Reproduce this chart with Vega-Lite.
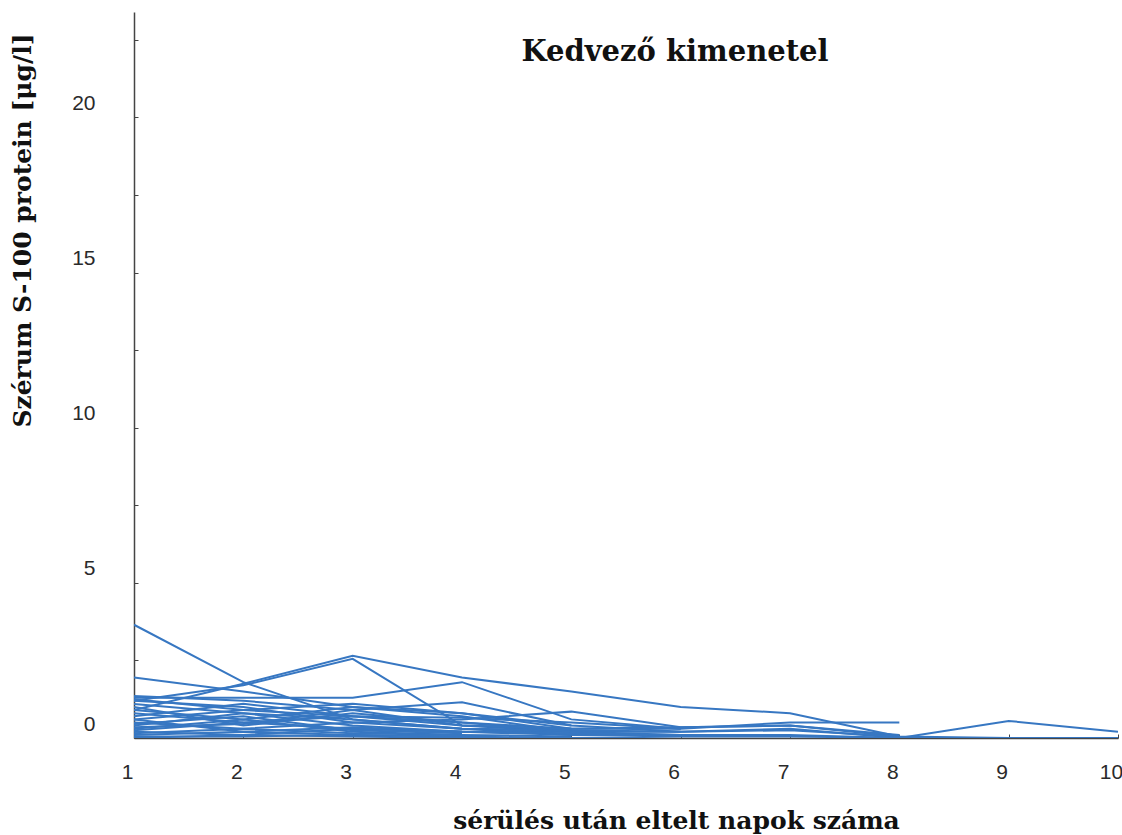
{
  "$schema": "https://vega.github.io/schema/vega-lite/v6.json",
  "width": 984,
  "height": 726,
  "autosize": {"type": "none"},
  "padding": {"left": 134, "top": 12, "right": 4, "bottom": 97},
  "background": "white",
  "config": {"view": {"stroke": null}},
  "title": {
    "text": "Kedvező kimenetel",
    "anchor": "middle",
    "frame": "group",
    "font": "DejaVu Serif",
    "fontSize": 29,
    "fontWeight": "bold",
    "color": "#111111",
    "baseline": "alphabetic",
    "offset": 0,
    "dx": 49,
    "dy": 78
  },
  "data": {
    "values": [
      {"p":"s1","d":1,"v":3.65},{"p":"s1","d":2,"v":1.8},{"p":"s1","d":3,"v":0.6},{"p":"s1","d":4,"v":0.3},{"p":"s1","d":5,"v":0.1},
      {"p":"s2","d":1,"v":0.9},{"p":"s2","d":2,"v":1.75},{"p":"s2","d":3,"v":2.65},{"p":"s2","d":4,"v":1.95},{"p":"s2","d":5,"v":1.5},{"p":"s2","d":6,"v":1.0},{"p":"s2","d":7,"v":0.8},{"p":"s2","d":8,"v":0.05},
      {"p":"s3","d":1,"v":1.2},{"p":"s3","d":2,"v":1.7},{"p":"s3","d":3,"v":2.55},{"p":"s3","d":4,"v":0.4},{"p":"s3","d":5,"v":0.2},
      {"p":"s4","d":1,"v":1.95},{"p":"s4","d":2,"v":1.5},{"p":"s4","d":3,"v":1.0},{"p":"s4","d":4,"v":0.8},{"p":"s4","d":5,"v":0.3},
      {"p":"s5","d":1,"v":1.3},{"p":"s5","d":2,"v":1.3},{"p":"s5","d":3,"v":1.3},{"p":"s5","d":4,"v":1.8},{"p":"s5","d":5,"v":0.6},{"p":"s5","d":6,"v":0.3},
      {"p":"s6","d":1,"v":1.35},{"p":"s6","d":2,"v":1.2},{"p":"s6","d":3,"v":0.9},{"p":"s6","d":4,"v":1.15},{"p":"s6","d":5,"v":0.4},{"p":"s6","d":6,"v":0.2},
      {"p":"s7","d":1,"v":1.2},{"p":"s7","d":2,"v":1.0},{"p":"s7","d":3,"v":0.5},{"p":"s7","d":4,"v":0.6},{"p":"s7","d":5,"v":0.85},{"p":"s7","d":6,"v":0.35},{"p":"s7","d":7,"v":0.4},{"p":"s7","d":8,"v":0.1},
      {"p":"s8","d":1,"v":0.6},{"p":"s8","d":2,"v":0.9},{"p":"s8","d":3,"v":1.1},{"p":"s8","d":4,"v":0.8},{"p":"s8","d":5,"v":0.4},
      {"p":"s9","d":1,"v":1.0},{"p":"s9","d":2,"v":0.4},{"p":"s9","d":3,"v":0.8},{"p":"s9","d":4,"v":0.5},{"p":"s9","d":5,"v":0.3},{"p":"s9","d":6,"v":0.3},{"p":"s9","d":7,"v":0.5},{"p":"s9","d":8,"v":0.5},
      {"p":"s10","d":1,"v":0.8},{"p":"s10","d":2,"v":0.5},{"p":"s10","d":3,"v":0.3},{"p":"s10","d":4,"v":0.2},{"p":"s10","d":5,"v":0.2},{"p":"s10","d":6,"v":0.2},{"p":"s10","d":7,"v":0.3},{"p":"s10","d":8,"v":0.0},{"p":"s10","d":9,"v":0.55},{"p":"s10","d":10,"v":0.2},
      {"p":"s11","d":1,"v":0.4},{"p":"s11","d":2,"v":0.8},{"p":"s11","d":3,"v":0.6},{"p":"s11","d":4,"v":0.3},{"p":"s11","d":5,"v":0.2},
      {"p":"s12","d":1,"v":0.3},{"p":"s12","d":2,"v":0.6},{"p":"s12","d":3,"v":0.2},{"p":"s12","d":4,"v":0.1},
      {"p":"s13","d":1,"v":0.2},{"p":"s13","d":2,"v":0.1},{"p":"s13","d":3,"v":0.3},{"p":"s13","d":4,"v":0.2},{"p":"s13","d":5,"v":0.1},{"p":"s13","d":6,"v":0.1},{"p":"s13","d":7,"v":0.1},
      {"p":"s14","d":1,"v":0.1},{"p":"s14","d":2,"v":0.2},{"p":"s14","d":3,"v":0.1},{"p":"s14","d":4,"v":0.05},
      {"p":"s15","d":1,"v":0.7},{"p":"s15","d":2,"v":1.1},{"p":"s15","d":3,"v":0.7},{"p":"s15","d":4,"v":0.4},{"p":"s15","d":5,"v":0.3},{"p":"s15","d":6,"v":0.35},{"p":"s15","d":7,"v":0.4},{"p":"s15","d":8,"v":0.05},
      {"p":"s16","d":1,"v":0.5},{"p":"s16","d":2,"v":0.3},{"p":"s16","d":3,"v":0.5},{"p":"s16","d":4,"v":0.3},{"p":"s16","d":5,"v":0.25},{"p":"s16","d":6,"v":0.2},{"p":"s16","d":7,"v":0.25},{"p":"s16","d":8,"v":0.05},{"p":"s16","d":9,"v":0.0},{"p":"s16","d":10,"v":0.0},
      {"p":"s17","d":1,"v":1.1},{"p":"s17","d":2,"v":0.8},{"p":"s17","d":3,"v":0.4},{"p":"s17","d":4,"v":0.2},
      {"p":"s18","d":1,"v":0.9},{"p":"s18","d":2,"v":0.6},{"p":"s18","d":3,"v":1.0},{"p":"s18","d":4,"v":0.7},{"p":"s18","d":5,"v":0.2},
      {"p":"s19","d":1,"v":0.25},{"p":"s19","d":2,"v":0.5},{"p":"s19","d":3,"v":0.7},{"p":"s19","d":4,"v":0.5},{"p":"s19","d":5,"v":0.2},{"p":"s19","d":6,"v":0.1},
      {"p":"s20","d":1,"v":0.15},{"p":"s20","d":2,"v":0.3},{"p":"s20","d":3,"v":0.15},{"p":"s20","d":4,"v":0.1},{"p":"s20","d":5,"v":0.05},
      {"p":"s21","d":1,"v":0.05},{"p":"s21","d":2,"v":0.05},{"p":"s21","d":3,"v":0.1},{"p":"s21","d":4,"v":0.05},{"p":"s21","d":5,"v":0.0},
      {"p":"s22","d":1,"v":0.6},{"p":"s22","d":2,"v":0.2},{"p":"s22","d":3,"v":0.35},{"p":"s22","d":4,"v":0.2},{"p":"s22","d":5,"v":0.15},{"p":"s22","d":6,"v":0.1},{"p":"s22","d":7,"v":0.1},{"p":"s22","d":8,"v":0.0},
      {"p":"s23","d":1,"v":0.35},{"p":"s23","d":2,"v":0.45},{"p":"s23","d":3,"v":0.9},{"p":"s23","d":4,"v":0.4},{"p":"s23","d":5,"v":0.3},
      {"p":"s24","d":1,"v":1.25},{"p":"s24","d":2,"v":0.9},{"p":"s24","d":3,"v":0.7},{"p":"s24","d":4,"v":0.65},{"p":"s24","d":5,"v":0.5},{"p":"s24","d":6,"v":0.3},
      {"p":"s25","d":1,"v":0.45},{"p":"s25","d":2,"v":0.7},{"p":"s25","d":3,"v":0.25},{"p":"s25","d":4,"v":0.15},
      {"p":"s26","d":1,"v":0.0},{"p":"s26","d":2,"v":0.1},{"p":"s26","d":3,"v":0.05},{"p":"s26","d":4,"v":0.0},{"p":"s26","d":5,"v":0.0},{"p":"s26","d":6,"v":0.05},{"p":"s26","d":7,"v":0.05},{"p":"s26","d":8,"v":0.0},{"p":"s26","d":9,"v":0.0},{"p":"s26","d":10,"v":0.0}
    ]
  },
  "mark": {"type": "line", "color": "#3777c2", "strokeWidth": 2, "clip": true},
  "encoding": {
    "detail": {"field": "p", "type": "nominal"},
    "x": {
      "field": "d",
      "type": "quantitative",
      "scale": {"domain": [1, 10], "nice": false, "zero": false},
      "axis": {
        "title": "sérülés után eltelt napok száma",
        "titleFont": "DejaVu Serif",
        "titleFontSize": 25,
        "titleFontWeight": "bold",
        "titleColor": "#111111",
        "titleX": 542,
        "titleY": 90,
        "titleBaseline": "alphabetic",
        "titleAnchor": null,
        "values": [1,2,3,4,5,6,7,8,9,10],
        "format": "d",
        "grid": false,
        "domainColor": "#444444",
        "domainWidth": 1.5,
        "tickColor": "#444444",
        "tickSize": -4,
        "labelFont": "Liberation Sans",
        "labelFontSize": 21,
        "labelColor": "#2a2a2a",
        "labelPadding": 27,
        "labelOffset": -7,
        "labelFlush": false
      }
    },
    "y": {
      "field": "v",
      "type": "quantitative",
      "scale": {"domain": [0, 23.4], "nice": false},
      "axis": {
        "title": "Szérum S-100 protein [μg/l]",
        "titleFont": "DejaVu Serif",
        "titleFontSize": 25,
        "titleFontWeight": "bold",
        "titleColor": "#111111",
        "titleX": -112,
        "titleY": 218,
        "titleAngle": -90,
        "titleAlign": "center",
        "titleBaseline": "middle",
        "titleAnchor": null,
        "values": [0,2.5,5,7.5,10,12.5,15,17.5,20,22.5],
        "labelExpr": "datum.value % 5 === 0 ? datum.label : ''",
        "grid": false,
        "domainColor": "#444444",
        "domainWidth": 1.5,
        "tickColor": "#444444",
        "tickSize": -4,
        "labelFont": "Liberation Sans",
        "labelFontSize": 21,
        "labelColor": "#2a2a2a",
        "labelPadding": 43,
        "labelOffset": -14,
        "labelFlush": false
      }
    }
  }
}
